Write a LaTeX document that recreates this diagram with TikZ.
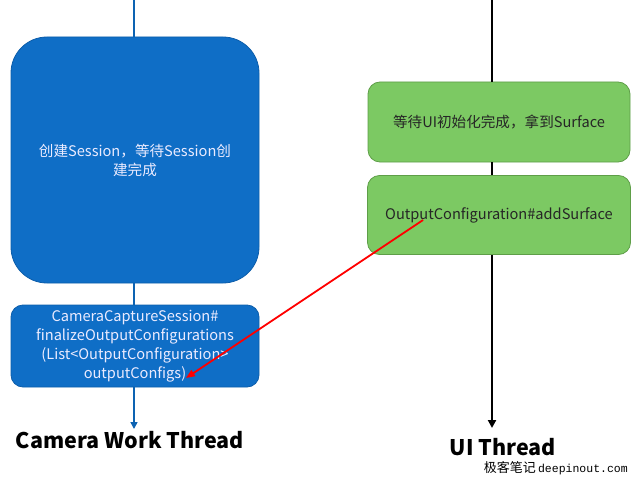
\documentclass[tikz,border=0pt]{standalone}
\usepackage{fontspec}
\setmainfont{Noto Sans CJK SC}
\newfontfamily\cjk{Noto Sans CJK SC}
\setmonofont{Liberation Mono}
\usetikzlibrary{arrows.meta}
\definecolor{bluefill}{HTML}{0F6EC6}
\definecolor{blueline}{HTML}{0C5DAA}
\definecolor{greenfill}{HTML}{7CC963}
\definecolor{greenline}{HTML}{5E9E48}
\tikzset{
  bluebox/.style={draw=blueline, fill=bluefill, line width=0.8pt, text=white!92!blue, align=center, font=\fontsize{14.6}{19}\selectfont},
  greenbox/.style={draw=greenline, fill=greenfill, line width=0.8pt, text=black!85, align=center, font=\fontsize{14.6}{19}\selectfont, rounded corners=12pt},
  bluewire/.style={draw=bluefill!90!black, line width=1.6pt},
  blackwire/.style={draw=black, line width=2pt},
  title/.style={font=\fontsize{21.5}{24}\selectfont\bfseries, text=black}
}
\begin{document}
\begin{tikzpicture}[x=1pt,y=-1pt]
\useasboundingbox (0,0) rectangle (631,476);
% blue thread
\coordinate (btop) at (134,0);
\coordinate (bend) at (134,429);
\node[bluebox, rounded corners=36pt, minimum width=248pt, minimum height=246pt] (create) at (135,160) {创建Session，等待Session创\\建完成};
\node[bluebox, rounded corners=12pt, minimum width=248pt, minimum height=82pt, inner sep=1pt] (final) at (135,346) {CameraCaptureSession\#\\finalizeOutputConfigurations\\(List<OutputConfiguration>\\outputConfigs)};
\draw[bluewire] (btop) -- (create.north -| btop);
\draw[bluewire] (create.south -| btop) -- (final.north -| btop);
\draw[bluewire, -{Triangle[length=7pt,width=7pt]}] (final.south -| btop) -- (bend);
\node[title] (camtitle) at (130,440) {Camera Work Thread};
% UI thread
\coordinate (ktop) at (492,0);
\coordinate (kend) at (492,428);
\node[greenbox, minimum width=262pt, minimum height=80pt] (wait) at (499,122) {等待UI初始化完成，拿到Surface};
\node[greenbox, minimum width=263pt, minimum height=79pt] (add) at (499,215) {OutputConfiguration\#addSurface};
\draw[blackwire] (ktop) -- (wait.north -| ktop);
\draw[blackwire] (wait.south -| ktop) -- (add.north -| ktop);
\draw[blackwire, -{Triangle[length=8pt,width=8pt]}] (add.south -| ktop) -- (kend);
\node[title] (uititle) at (503,447) {UI Thread};
\node[anchor=east, inner sep=0pt] (wm) at (628,468) {{\cjk\fontsize{13}{14}\selectfont 极客笔记} {\ttfamily\fontsize{11.5}{14}\selectfont deepinout.com}};
% red arrow
\coordinate (rs) at (423,220);
\coordinate (re) at (186,378);
\draw[red, line width=1.8pt, -{Triangle[length=9pt,width=7pt]}] (rs) -- (re);
\end{tikzpicture}
\end{document}
